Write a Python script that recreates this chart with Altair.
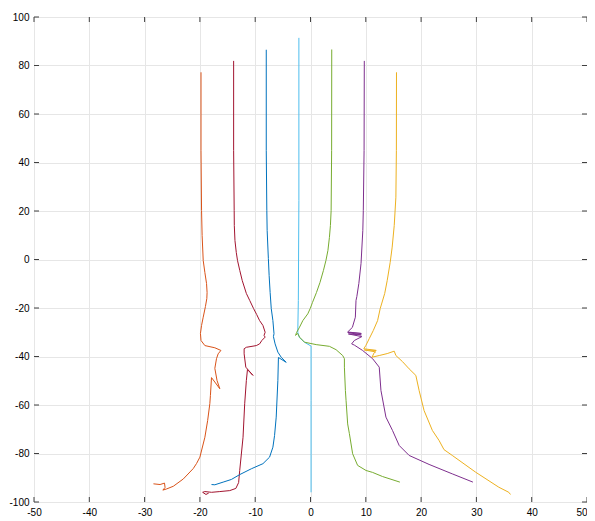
import altair as alt
import pandas as pd

# ---- data ----
orange_x = [-19.8, -19.8, -19.7, -19.6, -19.4, -19.1, -18.8, -18.7, -18.75, -19.0, -19.4, -19.7, -19.9, -19.8,
            -19.1, -17.3, -16.2, -16.7, -17.0, -17.3, -16.9, -16.4, -17.9, -18.1, -18.2, -18.6, -19.1, -20.0,
            -20.6, -21.2, -23.0, -24.8, -26.0, -26.7, -26.3, -26.4, -27.2, -28.4]
orange_y = [77.2, 45.0, 20.2, 9.9, -0.4, -5.4, -9.9, -13.6, -16.1, -19.4, -23.8, -27.2, -30.5, -33.4,
            -35.5, -36.4, -37.5, -38.9, -40.9, -44.9, -49.9, -53.3, -48.7, -56.1, -59.4, -66.4, -73.3, -81.5,
            -84.1, -86.2, -90.5, -93.5, -94.6, -95.1, -94.0, -92.2, -92.8, -92.5]

darkred_x = [-13.9, -13.9, -13.8, -13.78, -13.66, -13.42, -13.2, -12.79, -12.34, -11.6, -10.99, -10.3, -9.73,
             -9.2, -8.6, -8.2, -8.4, -8.2, -8.8, -9.2, -9.8, -11.6, -12.0, -12.0, -11.7, -10.4, -11.4, -11.6,
             -11.9, -12.2, -12.8, -13.0, -13.5, -14.6, -16.4, -17.9, -19.1, -19.5, -18.9, -18.4]
darkred_y = [81.9, 45.0, 20.2, 14.0, 7.8, 2.9, -0.4, -4.5, -8.7, -14.0, -16.9, -20.2, -22.7,
             -25.2, -27.2, -30.0, -31.3, -32.0, -33.4, -34.8, -35.5, -36.2, -36.8, -38.9, -44.4, -47.8, -45.4,
             -49.9, -59.5, -73.3, -87.0, -92.0, -94.4, -95.3, -95.7, -96.0, -95.7, -96.0, -96.9, -96.3]

blue_x = [-8.0, -8.0, -7.9, -7.84, -7.62, -7.48, -7.3, -7.1, -6.8, -6.6, -6.7, -6.4, -5.9, -5.3, -4.4, -5.8,
          -5.9, -6.2, -6.5, -6.8, -7.4, -8.6, -10.7, -12.8, -14.3, -15.8, -17.3, -17.9]
blue_y = [86.5, 45.0, 20.2, 12.0, 0.4, -6.6, -13.6, -20.2, -25.2, -30.6, -31.8, -34.8, -38.2, -40.3, -42.4,
          -40.4, -49.9, -65.0, -72.6, -77.4, -81.5, -84.2, -86.3, -88.7, -90.7, -91.8, -92.9, -92.8]

lightblue_x = [-2.1, -2.1, -2.2, -2.3, -2.0, -1.1, 0.1, 0.1, 0.1]
lightblue_y = [91.4, 24.3, -16.9, -30.0, -32.2, -34.1, -35.7, -58.1, -96.0]

green_x = [3.84, 3.82, 3.73, 3.60, 3.42, 3.15, 2.79, 2.34, 1.71, 1.08, 0.36, -0.05, -0.49, -1.39, -1.98,
           -2.52, -2.70, -2.34, -1.98, -1.08, 1.03, 3.42, 4.63, 5.82, 6.13, 6.13, 6.31, 6.43, 6.72, 7.03, 7.62,
           8.52, 10.04, 11.23, 13.03, 16.16]
green_y = [86.6, 45.0, 20.2, 14.0, 9.1, 3.7, -0.4, -4.5, -9.5, -13.6, -17.7, -20.2, -22.4, -25.2, -27.9,
           -30.1, -31.3, -30.5, -32.0, -34.1, -35.1, -35.8, -37.2, -39.6, -40.9, -44.4, -54.0, -58.1, -67.8,
           -71.8, -80.1, -84.9, -87.0, -87.8, -89.5, -91.8]

purple_x = [9.73, 9.69, 9.55, 9.46, 9.14, 8.74, 8.38, 8.23, 8.11, 7.57, 6.72, 9.19, 6.76, 9.19, 6.85, 9.28,
            7.93, 7.44, 7.93, 9.42, 11.23, 12.43, 12.74, 13.64, 14.83, 16.04, 17.84, 21.44, 25.64, 29.37]
purple_y = [81.9, 45.0, 20.2, 12.0, -1.6, -9.9, -15.3, -16.9, -23.8, -28.0, -29.9, -30.5, -30.1, -31.1,
            -30.7, -31.8, -33.4, -34.8, -35.3, -37.5, -40.9, -44.4, -54.0, -65.0, -70.5, -76.7, -80.8, -84.5,
            -88.4, -91.8]

yellow_x = [15.55, 15.53, 15.44, 15.14, 14.77, 14.41, 13.87, 13.42, 12.61, 12.13, 11.35, 10.63, 10.0, 9.64,
            11.89, 9.73, 11.80, 11.53, 11.12, 12.43, 13.87, 15.14, 15.44, 16.63, 17.84, 19.05, 19.64, 20.54,
            22.04, 23.24, 24.14, 25.64, 29.86, 34.05, 35.86, 36.16]
yellow_y = [77.2, 45.0, 25.7, 14.0, 5.1, -1.2, -8.7, -14.0, -20.2, -25.2, -29.3, -32.6, -35.5, -36.8,
            -37.5, -37.3, -38.1, -38.4, -40.3, -39.6, -38.8, -37.8, -39.6, -42.1, -45.1, -47.8, -54.0, -62.3,
            -70.5, -74.6, -78.4, -80.8, -87.7, -93.9, -96.0, -96.9]

series_names = ["orange", "darkred", "blue", "lightblue", "green", "purple", "yellow"]
series_colors = ["#D95319", "#A2142F", "#0072BD", "#4DBEEE", "#77AC30", "#7E2F8E", "#EDB120"]
series_data = [(orange_x, orange_y), (darkred_x, darkred_y), (blue_x, blue_y),
               (lightblue_x, lightblue_y), (green_x, green_y), (purple_x, purple_y),
               (yellow_x, yellow_y)]

x_ticks = [-50, -40, -30, -20, -10, 0, 10, 20, 30, 40, 50]
y_ticks = [-100, -80, -60, -40, -20, 0, 20, 40, 60, 80, 100]

rows = []
for name, (xs, ys) in zip(series_names, series_data):
    for i, (xv, yv) in enumerate(zip(xs, ys)):
        rows.append({"series": name, "x": xv, "y": yv, "i": i})
df = pd.DataFrame(rows)

W, H = 553, 485
TL = 5
label_color = "#404040"

xscale = alt.Scale(domain=[-50, 50], nice=False, zero=False)
yscale = alt.Scale(domain=[-100, 100], nice=False, zero=False)

lines = alt.Chart(df).mark_line(strokeWidth=1, clip=True).encode(
    x=alt.X("x:Q", scale=xscale, title=None,
            axis=alt.Axis(values=x_ticks, grid=True, gridColor="#e6e6e6", ticks=False, domain=False,
                          labelPadding=5, labelExpr="'' + datum.value", labelFlush=False,
                          labelAlign={"condition": {"test": "datum.value == 50", "value": "right"},
                                      "value": "center"})),
    y=alt.Y("y:Q", scale=yscale, title=None,
            axis=alt.Axis(values=y_ticks, grid=True, gridColor="#e6e6e6", ticks=False, domain=False,
                          labelPadding=5, labelExpr="'' + datum.value", labelFlush=False)),
    color=alt.Color("series:N", scale=alt.Scale(domain=series_names, range=series_colors), legend=None),
    detail="series:N",
    order="i:Q",
)

xt = pd.DataFrame({"v": x_ticks})
yt = pd.DataFrame({"v": y_ticks})
tick_color = "#404040"

xb = alt.Chart(xt).mark_rule(color=tick_color, strokeWidth=1).encode(
    x=alt.X("v:Q", scale=xscale), y=alt.value(H), y2=alt.value(H - TL))
xtop = alt.Chart(xt).mark_rule(color=tick_color, strokeWidth=1).encode(
    x=alt.X("v:Q", scale=xscale), y=alt.value(0), y2=alt.value(TL))
yl = alt.Chart(yt).mark_rule(color=tick_color, strokeWidth=1).encode(
    y=alt.Y("v:Q", scale=yscale), x=alt.value(0), x2=alt.value(TL))
yr = alt.Chart(yt).mark_rule(color=tick_color, strokeWidth=1).encode(
    y=alt.Y("v:Q", scale=yscale), x=alt.value(W), x2=alt.value(W - TL))

chart = alt.layer(lines, xb, xtop, yl, yr).properties(
    width=W, height=H,
    autosize=alt.AutoSizeParams(type="none"),
    padding={"left": 26, "top": 9, "right": 0, "bottom": 20},
).configure_view(stroke="#404040", strokeWidth=1).configure_axis(
    labelFont="Liberation Sans", labelFontSize=10.5, labelColor=label_color,
).configure(background="white")

chart.save("out.html", embed_options={"renderer": "svg", "actions": False})
